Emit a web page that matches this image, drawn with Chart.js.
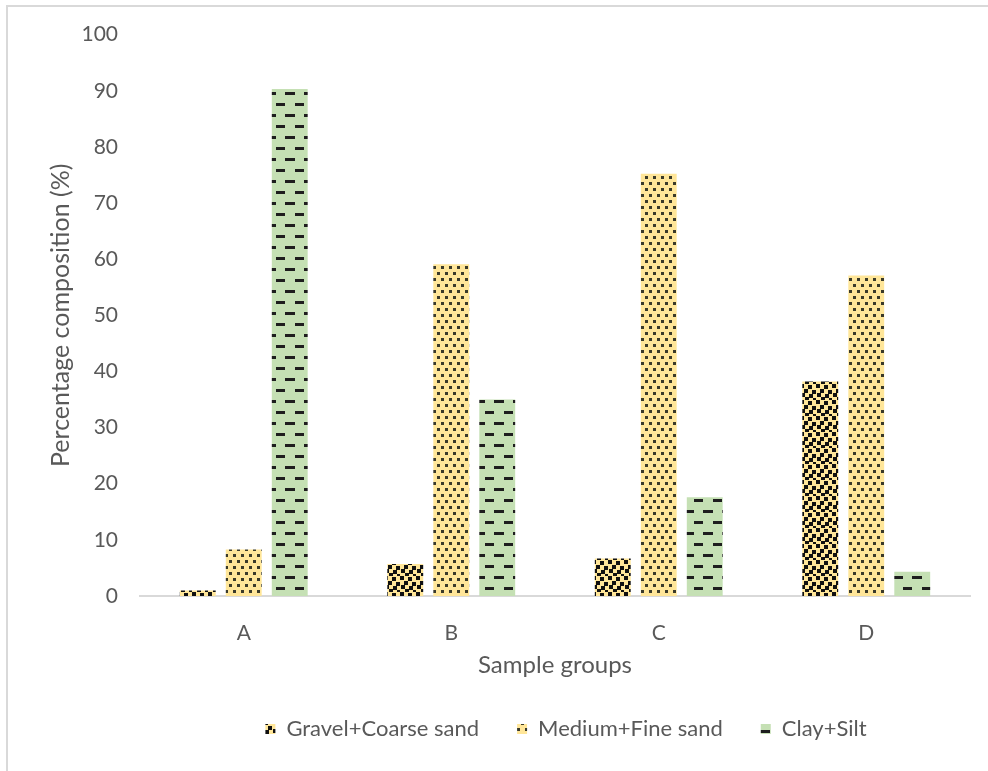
<!DOCTYPE html>
<html>
<head>
<meta charset="utf-8">
<script src="https://cdn.jsdelivr.net/npm/chart.js@4/dist/chart.umd.min.js"></script>
<style>
  html, body { margin: 0; padding: 0; background: #fff; overflow: hidden; }
  #wrap { position: relative; width: 988px; height: 771px; }
  #frame { position: absolute; left: 6px; top: 5px; width: 1000px; height: 800px;
           border: 2px solid #d9d9d9; box-sizing: border-box; pointer-events: none; }
  canvas { position: absolute; left: 0; top: 0; }
</style>
</head>
<body>
<div id="wrap">
  <canvas id="soilChart" width="988" height="771"></canvas>
  <div id="frame"></div>
</div>
<script>
const groups = ['A', 'B', 'C', 'D'];
const seriesNames = ['Gravel+Coarse sand', 'Medium+Fine sand', 'Clay+Silt'];
const gravelCoarse = [1.0, 5.7, 6.7, 38.2];
const mediumFine = [8.3, 59.1, 75.2, 57.1];
const claySilt = [90.3, 35.0, 17.6, 4.3];
const yTicks = [0, 10, 20, 30, 40, 50, 60, 70, 80, 90, 100];

const FONT = 'Lato, "Liberation Sans", sans-serif';
const TEXT = '#595959';

function tile(w, h, bg, paint) {
  const c = document.createElement('canvas');
  c.width = w; c.height = h;
  const g = c.getContext('2d');
  g.fillStyle = bg;
  g.fillRect(0, 0, w, h);
  paint(g);
  return document.getElementById('soilChart').getContext('2d').createPattern(c, 'repeat');
}

// coarse: dense dark squares on yellow
const gravelFill = tile(16, 16, '#ffe699', g => {
  g.fillStyle = '#111';
  [[0, 0], [8, 1], [4, 5], [12, 6], [1, 9], [9, 10], [5, 13], [13, 14]]
    .forEach(([x, y]) => g.fillRect(x, y, 4, 4));
});

// fine: small staggered dots on yellow
const sandFill = tile(8, 12, '#ffe699', g => {
  g.fillStyle = '#3a3a2a';
  g.fillRect(1, 2, 3, 3);
  g.fillRect(5, 8, 3, 3);
});

// clay: offset dashes on green
const clayFill = tile(19, 22, '#c5e0b4', g => {
  g.fillStyle = '#1e1e1e';
  g.fillRect(0, 4, 10, 3);
  g.fillRect(10, 15, 10, 3);
});

const datasets = [
  { label: seriesNames[0], data: gravelCoarse, backgroundColor: gravelFill },
  { label: seriesNames[1], data: mediumFine, backgroundColor: sandFill },
  { label: seriesNames[2], data: claySilt, backgroundColor: clayFill }
].map(d => ({ ...d, borderWidth: 0, categoryPercentage: 0.665, barPercentage: 0.78 }));

// legend sits a little right of centre
const legendShift = {
  id: 'legendShift',
  afterLayout(chart) {
    chart.legend.left += 76;
    chart.legend.right += 76;
  }
};

new Chart(document.getElementById('soilChart'), {
  type: 'bar',
  data: { labels: groups, datasets },
  plugins: [legendShift],
  options: {
    responsive: false,
    animation: false,
    layout: { padding: { left: 10, right: 18, top: 22, bottom: 21 } },
    plugins: {
      tooltip: { enabled: false },
      legend: {
        position: 'bottom',
        labels: {
          color: TEXT,
          font: { family: FONT, size: 22 },
          boxWidth: 10,
          boxHeight: 10,
          padding: 38
        }
      }
    },
    scales: {
      x: {
        grid: { display: false },
        border: { display: true, color: '#d9d9d9', width: 2 },
        ticks: { color: TEXT, font: { family: FONT, size: 21 }, padding: 17 },
        title: {
          display: true,
          text: 'Sample groups',
          color: TEXT,
          font: { family: FONT, size: 24 },
          padding: { top: 4, bottom: 0 }
        },
        afterFit: s => { s.height = 84; }
      },
      y: {
        min: 0,
        max: 100,
        afterBuildTicks: s => { s.ticks = yTicks.map(v => ({ value: v })); },
        grid: { display: false, drawTicks: false },
        border: { display: false },
        ticks: { color: TEXT, font: { family: FONT, size: 21 }, padding: 22 },
        title: {
          display: true,
          text: 'Percentage composition (%)',
          color: TEXT,
          font: { family: FONT, size: 25 },
          padding: { top: 36, bottom: 0 }
        },
        afterFit: s => { s.width = 130; }
      }
    }
  }
});
</script>
</body>
</html>
